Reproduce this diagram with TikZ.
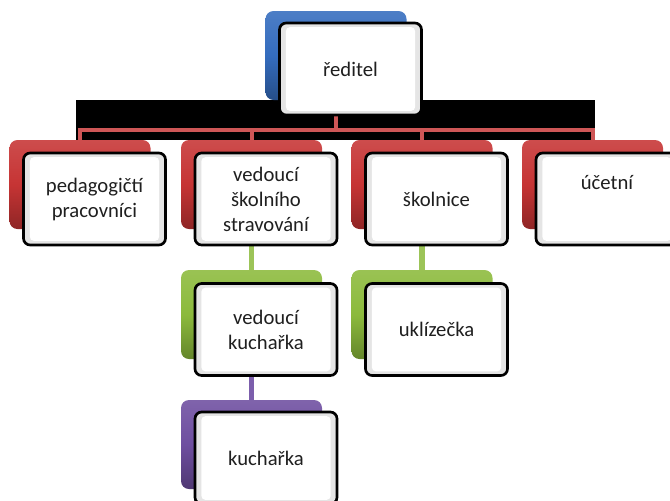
\documentclass[tikz,border=0pt]{standalone}
\usepackage{fontspec}
\setmainfont{Carlito}
\usetikzlibrary{calc}

\definecolor{modra}{RGB}{52,108,190}
\definecolor{cervena}{RGB}{198,52,52}
\definecolor{zelena}{RGB}{140,186,60}
\definecolor{fialova}{RGB}{110,78,160}
\definecolor{spojcervena}{RGB}{206,86,86}
\definecolor{spojzelena}{RGB}{156,196,88}
\definecolor{spojfialova}{RGB}{124,94,172}

\tikzset{
  zadni/.style={rounded corners=6pt, minimum width=105.75pt, minimum height=66.75pt, inner sep=0pt,
    top color=#1!88!white, bottom color=#1!72!black, middle color=#1},
  predni/.style={draw=black, line width=2pt, rounded corners=5pt, fill=gray!20,
    minimum width=106.5pt, minimum height=69pt, inner sep=0pt, align=center,
    font=\fontsize{15.5}{18.75}\selectfont, text=black!88,
    path picture={\fill[white, rounded corners=3pt]
      ($(path picture bounding box.north west)!0.045!(path picture bounding box.south east)$) rectangle
      ($(path picture bounding box.south east)!0.045!(path picture bounding box.north west)$);}},
  spoj/.style={draw=#1, line width=3pt},
}

\begin{document}
\begin{tikzpicture}[x=0.75pt,y=0.75pt,yscale=-1,xscale=1]
\useasboundingbox (0,0) rectangle (670,500);

%Shape: Rectangle (black strip)
\fill[black] (76,100) rectangle (595,140);

%Shape: back boxes
\node[zadni=modra] (reditelB) at (336,55.5) {};
\node[zadni=cervena] (pedagB) at (80,184.5) {};
\node[zadni=cervena] (stravB) at (251.5,184.5) {};
\node[zadni=cervena] (skolniceB) at (422,184.5) {};
\node[zadni=cervena] (ucetniB) at (592.5,184.5) {};
\node[zadni=zelena] (vedkuchB) at (251.5,314.5) {};
\node[zadni=zelena] (uklizeckaB) at (422,314.5) {};
\node[zadni=fialova] (kucharkaB) at (251.5,444.5) {};

%Straight Lines
\coordinate (sbernice) at ($(reditelB.south)+(0,30)$);
\foreach \n in {pedagB,stravB,skolniceB,ucetniB}
  \draw[spoj=spojcervena] (reditelB.south) -- (sbernice) -| (\n.north);
\draw[spoj=spojzelena, line width=3.8pt] (stravB.south) -- (vedkuchB.north);
\draw[spoj=spojzelena, line width=3.8pt] (skolniceB.south) -- (uklizeckaB.north);
\draw[spoj=spojfialova, line width=3.8pt] (vedkuchB.south) -- (kucharkaB.north);

% Text Node
\node[predni] (reditel) at (350.5,69) {ředitel};
% Text Node
\node[predni] (pedag) at (94.5,199) {pedagogičtí\\pracovníci};
% Text Node
\node[predni] (strav) at (266,199) {vedoucí\\školního\\stravování};
% Text Node
\node[predni] (skolnice) at (436.5,199) {školnice};
% Text Node
\node[predni] (ucetni) at (607,199) {účetní\\\strut};
% Text Node
\node[predni] (vedkuch) at (266,329.5) {vedoucí\\kuchařka};
% Text Node
\node[predni] (uklizecka) at (436.5,329.5) {uklízečka};
% Text Node
\node[predni] (kucharka) at (266,458) {kuchařka};

\end{tikzpicture}
\end{document}
